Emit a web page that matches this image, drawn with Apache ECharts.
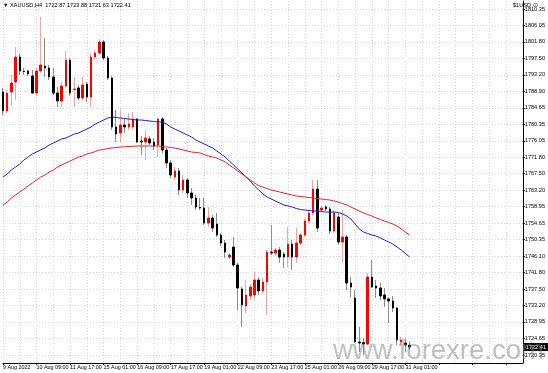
<!DOCTYPE html>
<html><head><meta charset="utf-8">
<script src="https://cdn.jsdelivr.net/npm/echarts@6/dist/echarts.min.js"></script>
<style>html,body{margin:0;padding:0;background:#fff}#c{width:548px;height:373px}</style>
</head><body><div id="c"></div>
<script>
// ---- data (XAUUSD H4, 9 Aug 2022 01:00 .. 31 Aug 2022 05:00) ----
const opens = [1788.76,1783.82,1788.76,1791.36,1797.86,1794.22,1794.22,1792.92,1788.50,1794.22,
1795.52,1795.00,1792.66,1788.50,1786.42,1790.32,1797.08,1789.41,1789.80,1787.20,
1790.84,1787.46,1797.86,1798.90,1801.77,1797.60,1792.40,1779.65,1778.09,1780.17,
1779.65,1779.65,1781.73,1776.01,1775.75,1776.53,1775.75,1774.97,1781.73,1773.67,
1770.29,1766.65,1768.21,1763.26,1765.87,1762.48,1761.18,1758.71,1758.58,1754.68,
1755.98,1754.42,1751.55,1749.47,1745.83,1748.43,1743.75,1737.51,1733.08,1735.69,
1735.95,1739.85,1736.99,1739.33,1747.13,1746.87,1747.65,1746.61,1745.83,1749.21,
1745.83,1749.47,1751.55,1755.20,1757.28,1763.52,1758.06,1758.84,1758.32,1752.59,
1756.24,1749.73,1751.03,1739.07,1735.17,1723.72,1723.59,1723.20,1740.63,1738.29,
1737.77,1735.95,1734.91,1734.39,1732.56,1723.72,1723.46,1722.87];
const highs = [1789.80,1789.28,1793.18,1800.46,1798.64,1795.00,1794.50,1794.48,1795.00,1808.27,
1802.81,1795.78,1795.00,1790.06,1791.36,1799.42,1797.60,1792.66,1790.58,1792.66,
1791.36,1798.90,1799.68,1802.55,1802.29,1798.12,1792.92,1784.08,1784.08,1781.73,
1783.29,1783.55,1781.99,1777.31,1778.87,1777.31,1776.79,1781.99,1782.25,1774.19,
1771.07,1769.25,1768.99,1767.17,1766.39,1763.78,1761.96,1761.18,1761.18,1758.84,
1756.76,1757.28,1752.07,1750.25,1746.87,1751.03,1744.27,1738.03,1739.85,1738.81,
1741.93,1740.63,1740.37,1747.65,1754.16,1748.17,1748.43,1747.13,1753.64,1750.25,
1753.37,1752.07,1755.72,1757.80,1765.87,1765.87,1759.10,1759.36,1758.84,1758.06,
1757.28,1758.06,1751.55,1740.63,1737.25,1727.62,1724.76,1741.67,1745.05,1739.85,
1739.07,1737.77,1735.43,1735.69,1732.82,1725.02,1724.24,1723.88];
const lows = [1782.77,1783.29,1785.12,1786.68,1793.18,1793.18,1792.90,1788.24,1787.72,1793.70,
1792.66,1791.88,1787.98,1784.86,1784.86,1789.80,1787.72,1784.86,1786.68,1786.68,
1786.16,1784.86,1797.08,1798.38,1797.08,1791.88,1778.87,1775.75,1775.49,1778.09,
1778.87,1778.87,1775.49,1772.37,1771.07,1774.97,1773.67,1771.85,1772.89,1768.99,
1766.39,1765.87,1761.96,1762.48,1761.18,1759.36,1758.06,1758.06,1754.16,1753.64,
1752.33,1751.03,1748.69,1745.57,1745.31,1743.23,1732.04,1727.62,1731.26,1734.65,
1734.65,1735.95,1736.47,1730.74,1746.35,1746.09,1744.27,1742.97,1743.23,1742.45,
1744.27,1748.95,1751.03,1754.68,1756.76,1752.33,1757.54,1757.80,1751.81,1752.07,
1748.95,1744.27,1737.25,1735.43,1723.46,1721.13,1720.35,1722.94,1737.77,1735.17,
1734.65,1732.82,1728.66,1731.52,1722.94,1722.94,1721.13,1721.63];
const closes = [1783.82,1788.50,1791.10,1797.86,1794.22,1794.10,1793.44,1788.50,1794.22,1795.78,
1795.00,1792.66,1788.50,1786.42,1790.32,1797.08,1788.50,1789.54,1787.20,1790.58,
1787.46,1797.86,1798.90,1801.77,1797.60,1792.40,1779.65,1777.83,1780.17,1779.65,
1780.43,1781.73,1775.75,1775.75,1776.79,1775.49,1774.71,1781.73,1773.67,1770.29,
1767.17,1768.21,1763.26,1765.87,1762.48,1761.18,1758.84,1758.58,1754.68,1755.98,
1753.37,1751.55,1749.47,1747.13,1746.35,1743.75,1737.77,1733.35,1735.95,1738.03,
1739.85,1736.99,1739.33,1747.13,1746.87,1747.65,1745.83,1745.83,1749.21,1745.83,
1749.47,1751.55,1755.20,1757.28,1763.52,1753.37,1758.58,1758.32,1752.59,1757.28,
1749.73,1751.03,1739.07,1738.03,1723.72,1723.46,1723.20,1740.63,1738.03,1737.77,
1735.69,1734.91,1734.39,1732.56,1724.24,1724.24,1722.94,1722.41];
const maBlue = [1766.65,1767.43,1768.47,1769.25,1770.03,1771.07,1771.85,1772.63,1773.15,1773.67,
1774.19,1774.97,1775.49,1776.01,1776.53,1776.79,1777.31,1777.83,1778.09,1778.61,
1779.13,1779.65,1780.43,1780.95,1781.47,1781.99,1782.25,1782.12,1781.99,1781.86,
1781.73,1781.60,1781.47,1781.47,1781.34,1781.21,1781.08,1780.95,1780.95,1780.43,
1779.65,1779.13,1778.61,1778.09,1777.57,1777.05,1776.27,1775.75,1775.23,1774.71,
1774.19,1773.41,1772.63,1771.85,1770.81,1769.77,1768.73,1767.69,1766.65,1765.60,
1764.30,1763.26,1762.22,1761.44,1760.92,1760.40,1759.88,1759.36,1759.10,1758.84,
1758.45,1758.19,1758.06,1757.93,1757.80,1757.80,1757.67,1757.54,1757.54,1757.54,
1757.41,1757.02,1756.50,1755.72,1754.42,1753.12,1752.34,1751.95,1751.56,1751.30,
1750.78,1750.26,1749.74,1749.22,1748.43,1747.65,1746.74,1745.83];
const maRed = [1759.36,1760.14,1761.18,1761.96,1762.74,1763.52,1764.30,1765.08,1765.86,1766.65,
1767.17,1767.95,1768.47,1769.25,1769.77,1770.29,1770.81,1771.33,1771.85,1772.11,
1772.63,1772.89,1773.28,1773.67,1773.80,1774.06,1774.19,1774.32,1774.45,1774.50,
1774.58,1774.63,1774.71,1774.71,1774.71,1774.71,1774.71,1774.71,1774.58,1774.45,
1774.32,1774.19,1773.93,1773.67,1773.41,1773.15,1773.02,1772.89,1772.50,1772.11,
1771.85,1771.59,1771.07,1770.55,1769.77,1768.99,1768.21,1767.43,1766.65,1765.86,
1765.08,1764.43,1764.04,1763.65,1763.26,1763.00,1762.74,1762.48,1762.22,1761.96,
1761.70,1761.57,1761.44,1761.31,1761.18,1761.05,1760.92,1760.79,1760.66,1760.40,
1760.14,1759.75,1759.36,1758.84,1758.32,1757.80,1757.28,1756.89,1756.50,1755.98,
1755.59,1755.20,1754.81,1754.42,1753.90,1753.12,1752.34,1751.56];
const xTickLabels = ['9 Aug 2022','10 Aug 09:00','11 Aug 17:00','15 Aug 01:00','16 Aug 09:00',
'17 Aug 17:00','19 Aug 01:00','22 Aug 09:00','23 Aug 17:00','25 Aug 01:00','26 Aug 09:00',
'29 Aug 17:00','31 Aug 01:00'];
const yTickLabels = ['1720.35','1724.65','1728.95','1733.20','1737.50','1741.80','1746.10',
'1750.35','1754.65','1758.95','1763.20','1767.50','1771.80','1776.05','1780.35','1784.65',
'1788.90','1793.20','1797.50','1801.80','1806.05','1810.35'];
const symbolName = 'XAUUSD,H4';
const lastQuote = [1722.87, 1723.88, 1721.63, 1722.41]; // O H L C
const emptySlots = 27; // chart shift space on the right

// ---- build ----
const nBars = opens.length;
const categories = Array.from({length: nBars + emptySlots}, (_, i) => String(i));
const wickData = opens.map((o, i) => [o, closes[i], lows[i], highs[i]]);
const bodyData = opens.map((o, i) => [o, closes[i], Math.min(o, closes[i]), Math.max(o, closes[i])]);
const yTicks = yTickLabels.map(Number);
const FONT = 'Liberation Sans';
const FS = 5.4;
const gridLine = {show: true, lineStyle: {color: '#d3d7df', width: 1, type: [1, 2]}};

const chart = echarts.init(document.getElementById('c'), null, {renderer: 'canvas'});
chart.setOption({
  animation: false,
  backgroundColor: '#ffffff',
  grid: {left: 2, right: 21, top: 1, bottom: 10, containLabel: false},
  xAxis: {
    type: 'category', data: categories, boundaryGap: false,
    axisLine: {show: true, lineStyle: {color: '#000', width: 1}},
    axisTick: {show: true, interval: 7, length: 2, lineStyle: {color: '#000'}},
    axisLabel: {interval: 7, align: 'left', margin: 2, fontSize: FS, color: '#000', fontFamily: FONT,
      hideOverlap: false, showMinLabel: true,
      formatter: (v, i) => xTickLabels[i / 8] || ''},
    splitLine: Object.assign({interval: 3}, gridLine)
  },
  yAxis: {
    type: 'value', position: 'right', min: 1718.26, max: 1812.43,
    axisLine: {show: true, lineStyle: {color: '#000', width: 1}},
    axisTick: {show: true, customValues: yTicks, length: 2, lineStyle: {color: '#000'}},
    axisLabel: {customValues: yTicks, margin: 2, fontSize: 5.6, color: '#000', fontFamily: FONT,
      formatter: v => Number(v).toFixed(2)},
    splitLine: gridLine
  },
  graphic: [
    {type: 'text', left: 3, top: 2, z: 100,
      style: {text: '\u25BC ' + symbolName + '  ' + lastQuote.map(v => v.toFixed(2)).join(' '),
        fontSize: 5.6, fill: '#000', fontFamily: FONT}},
    {type: 'text', left: 513, top: 2, z: 100,
      style: {text: '$1USD \u2299', fontSize: 5.6, fill: '#000', fontFamily: FONT}},
    {type: 'text', left: 333, top: 337, z: 100, silent: true,
      style: {text: 'www.forexre.com', fontSize: 27.5, fill: 'rgba(130,130,130,0.5)', fontFamily: 'Liberation Sans'}}
  ],
  series: [
    {type: 'candlestick', name: 'wick', data: wickData, barWidth: 1, clip: false, z: 2,
      itemStyle: {color: '#f4a2a2', color0: '#8c8c8c', borderColor: '#f4a2a2', borderColor0: '#8c8c8c', borderWidth: 1}},
    {type: 'candlestick', name: 'body', data: bodyData, barWidth: 2, clip: false, z: 3,
      itemStyle: {color: '#ff0000', color0: '#000000', borderColor: '#ff0000', borderColor0: '#000000', borderWidth: 1},
      markLine: {silent: true, symbol: ['none', 'none'], animation: false,
        data: [{yAxis: lastQuote[3]}], lineStyle: {color: 'rgba(0,0,0,0)', width: 1, type: 'solid'},
        label: {show: true, position: 'end', distance: 1, formatter: lastQuote[3].toFixed(2),
          backgroundColor: '#000', color: '#fff', fontSize: 5.6, fontFamily: FONT, padding: [1, 2]}}},
    {type: 'line', name: 'MA fast', data: maBlue, symbol: 'none', z: 4,
      lineStyle: {color: '#1c1ce8', width: 1}},
    {type: 'line', name: 'MA slow', data: maRed, symbol: 'none', z: 4,
      lineStyle: {color: '#f02020', width: 1}}
  ]
});
</script></body></html>
